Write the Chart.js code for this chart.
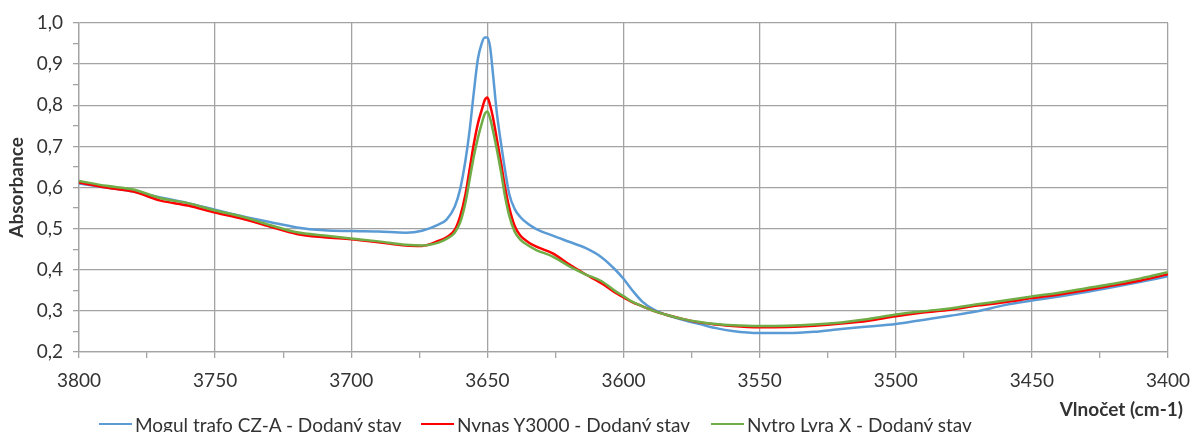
<!DOCTYPE html>
<html>
<head>
<meta charset="utf-8">
<script src="https://cdn.jsdelivr.net/npm/chart.js@4.4.1/dist/chart.umd.min.js"></script>
<style>
  html, body { margin: 0; padding: 0; background: #ffffff; }
  #wrap { position: relative; width: 1190px; height: 432px; font-family: Lato, "Open Sans", sans-serif; color: #333333; overflow: hidden; }
  #c { position: absolute; left: 0; top: 0; }
  .leg { position: absolute; top: 413px; height: 22px; display: flex; align-items: center; font-size: 19px; white-space: nowrap; }
  .leg i { display: inline-block; width: 33px; height: 2.5px; margin-right: 3px; }
  #xt { position: absolute; right: 7px; top: 397px; font-weight: bold; font-size: 19px; white-space: nowrap; }
</style>
</head>
<body>
<div id="wrap">
  <canvas id="c" width="1190" height="432"></canvas>
  <div id="xt"></div>
  <div id="legend"></div>
</div>
<script>
// ---- data ----
const wavenumbers = [3800, 3790, 3780, 3770, 3760, 3750, 3740, 3730, 3720, 3710, 3700, 3690, 3680, 3674, 3668, 3665, 3662, 3660, 3658, 3656.5, 3655, 3653.5, 3652, 3651, 3650, 3649, 3648, 3646.5, 3645, 3643.5, 3642, 3640, 3638, 3635, 3632, 3626, 3620, 3614, 3608, 3603, 3600, 3597, 3593, 3589, 3584, 3578, 3572, 3566, 3560, 3550, 3540, 3530, 3520, 3510, 3500, 3490, 3480, 3470, 3460, 3450, 3440, 3430, 3420, 3410, 3400];

const mogulValues = [0.610, 0.600, 0.590, 0.576, 0.562, 0.546, 0.530, 0.516, 0.503, 0.496, 0.494, 0.493, 0.490, 0.495, 0.510, 0.522, 0.553, 0.596, 0.668, 0.740, 0.830, 0.912, 0.952, 0.965, 0.965, 0.942, 0.880, 0.780, 0.708, 0.642, 0.585, 0.548, 0.529, 0.511, 0.499, 0.483, 0.468, 0.453, 0.430, 0.400, 0.378, 0.352, 0.322, 0.304, 0.290, 0.278, 0.268, 0.258, 0.251, 0.246, 0.246, 0.249, 0.256, 0.262, 0.268, 0.278, 0.288, 0.299, 0.314, 0.325, 0.335, 0.346, 0.358, 0.371, 0.384];

const nynasValues = [0.612, 0.600, 0.590, 0.568, 0.556, 0.539, 0.524, 0.505, 0.487, 0.479, 0.474, 0.467, 0.459, 0.458, 0.470, 0.479, 0.497, 0.530, 0.585, 0.645, 0.705, 0.755, 0.790, 0.812, 0.819, 0.800, 0.772, 0.717, 0.660, 0.600, 0.552, 0.507, 0.484, 0.467, 0.456, 0.440, 0.413, 0.389, 0.367, 0.344, 0.333, 0.322, 0.311, 0.300, 0.290, 0.280, 0.272, 0.267, 0.263, 0.260, 0.261, 0.264, 0.269, 0.276, 0.287, 0.296, 0.303, 0.313, 0.321, 0.331, 0.340, 0.351, 0.362, 0.374, 0.389];

const nytroValues = [0.616, 0.604, 0.595, 0.574, 0.562, 0.544, 0.529, 0.509, 0.491, 0.483, 0.476, 0.469, 0.461, 0.459, 0.466, 0.475, 0.490, 0.515, 0.565, 0.620, 0.675, 0.720, 0.757, 0.778, 0.785, 0.768, 0.740, 0.692, 0.638, 0.578, 0.532, 0.493, 0.474, 0.459, 0.448, 0.432, 0.409, 0.389, 0.372, 0.348, 0.336, 0.323, 0.311, 0.300, 0.290, 0.280, 0.273, 0.268, 0.265, 0.263, 0.264, 0.267, 0.272, 0.280, 0.291, 0.299, 0.306, 0.316, 0.325, 0.335, 0.344, 0.355, 0.366, 0.379, 0.394];

const seriesNames = ['Mogul trafo CZ-A - Dodaný stav', 'Nynas Y3000 - Dodaný stav', 'Nytro Lyra X - Dodaný stav'];
const yTickValues = [0.2, 0.3, 0.4, 0.5, 0.6, 0.7, 0.8, 0.9, 1.0];
const yTickLabels = ['0,2', '0,3', '0,4', '0,5', '0,6', '0,7', '0,8', '0,9', '1,0'];
const xTickValues = [3400, 3450, 3500, 3550, 3600, 3650, 3700, 3750, 3800];
const xTickLabels = ['3400', '3450', '3500', '3550', '3600', '3650', '3700', '3750', '3800'];
const xTitle = 'Vlnočet (cm-1)';
const yTitle = 'Absorbance';

// ---- styling ----
const colors = ['#5B9BD5', '#FF0000', '#70AD47'];
const gridColor = '#a3a3a3';
const textColor = '#333333';
const fontFamily = 'Lato, "Open Sans", sans-serif';
const fontSize = 19;

function pts(vals) { return wavenumbers.map((x, i) => ({ x: x, y: vals[i] })); }

function majorIndex(arr, v) {
  for (let i = 0; i < arr.length; i++) if (Math.abs(arr[i] - v) < 1e-6) return i;
  return -1;
}

// legend + x title as HTML text
document.getElementById('xt').textContent = xTitle;
const legendLefts = [99, 421, 711];
const legendEl = document.getElementById('legend');
seriesNames.forEach((n, i) => {
  const d = document.createElement('div');
  d.className = 'leg';
  d.style.left = legendLefts[i] + 'px';
  const sw = document.createElement('i');
  sw.style.background = colors[i];
  const t = document.createElement('span');
  t.textContent = n;
  d.appendChild(sw); d.appendChild(t);
  legendEl.appendChild(d);
});

const allValues = [mogulValues, nynasValues, nytroValues];

new Chart(document.getElementById('c'), {
  type: 'line',
  data: {
    datasets: allValues.map((v, i) => ({
      label: seriesNames[i],
      data: pts(v),
      borderColor: colors[i],
      backgroundColor: colors[i],
      borderWidth: 2.5,
      pointRadius: 0,
      fill: false,
      cubicInterpolationMode: 'monotone',
      order: 3 - i
    }))
  },
  options: {
    responsive: false,
    animation: false,
    events: [],
    layout: { padding: { left: 0, right: 22, top: 23, bottom: 0 } },
    plugins: { legend: { display: false }, tooltip: { enabled: false } },
    scales: {
      x: {
        type: 'linear',
        min: 3400, max: 3800,
        reverse: true,
        afterFit: (s) => { s.height = 80; s.paddingRight = 0; s.paddingLeft = 0; },
        ticks: {
          stepSize: 25,
          autoSkip: false,
          maxRotation: 0,
          padding: 11,
          color: textColor,
          font: { family: fontFamily, size: fontSize },
          callback: (v) => { const k = majorIndex(xTickValues, v); return k >= 0 ? xTickLabels[k] : ''; }
        },
        grid: {
          color: (ctx) => (ctx.tick && majorIndex(xTickValues, ctx.tick.value) >= 0) ? gridColor : 'rgba(0,0,0,0)',
          tickColor: gridColor,
          tickLength: 6,
          lineWidth: 1.3,
          tickWidth: 1.3
        },
        border: { color: gridColor, width: 1.3 }
      },
      y: {
        min: 0.2, max: 1.0,
        afterFit: (s) => { s.width = 79; },
        ticks: {
          stepSize: 0.05,
          autoSkip: false,
          padding: 10,
          color: textColor,
          font: { family: fontFamily, size: fontSize },
          callback: (v) => { const k = majorIndex(yTickValues, v); return k >= 0 ? yTickLabels[k] : ''; }
        },
        grid: {
          color: (ctx) => (ctx.tick && majorIndex(yTickValues, ctx.tick.value) >= 0) ? gridColor : 'rgba(0,0,0,0)',
          tickColor: gridColor,
          tickLength: 6,
          lineWidth: 1.3,
          tickWidth: 1.3
        },
        border: { color: gridColor, width: 1.3 },
        title: {
          display: true,
          text: yTitle,
          color: textColor,
          font: { family: fontFamily, size: fontSize, weight: 'bold' },
          padding: { top: 5, bottom: 0 }
        }
      }
    }
  }
});
</script>
</body>
</html>
